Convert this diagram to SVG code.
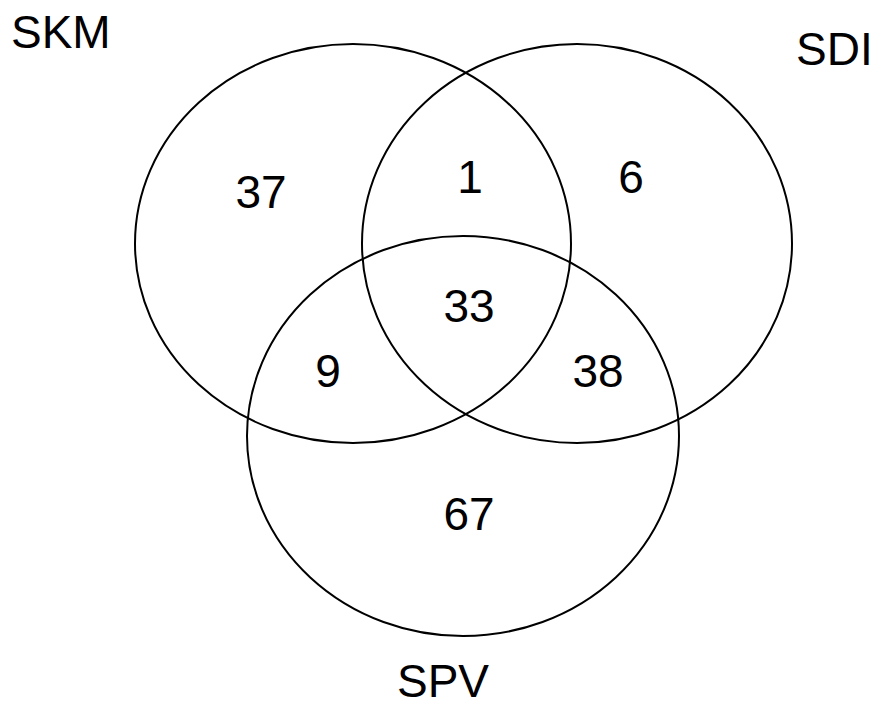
<svg xmlns="http://www.w3.org/2000/svg" width="876" height="708" viewBox="0 0 876 708">
<style>
.set{fill:none;stroke:#000;stroke-width:2}
text{font-family:"Liberation Sans",Arial,sans-serif;font-size:46px;fill:#000}
.m{text-anchor:middle}
</style>
<rect width="876" height="708" fill="#fff"/>
<g id="SKM"><ellipse class="set" cx="353" cy="243.5" rx="218" ry="199.5"/><text x="11" y="48">SKM</text></g>
<g id="SDI"><ellipse class="set" cx="577" cy="243.5" rx="215" ry="199.5"/><text x="796" y="65">SDI</text></g>
<g id="SPV"><ellipse class="set" cx="463" cy="436" rx="216" ry="200"/><text class="m" x="443" y="697">SPV</text></g>
<g id="counts">
<text class="m" x="261" y="208">37</text>
<text class="m" x="470" y="193">1</text>
<text class="m" x="631" y="193">6</text>
<text class="m" x="469" y="322">33</text>
<text class="m" x="328" y="387">9</text>
<text class="m" x="598" y="387">38</text>
<text class="m" x="469" y="530">67</text>
</g>
</svg>
